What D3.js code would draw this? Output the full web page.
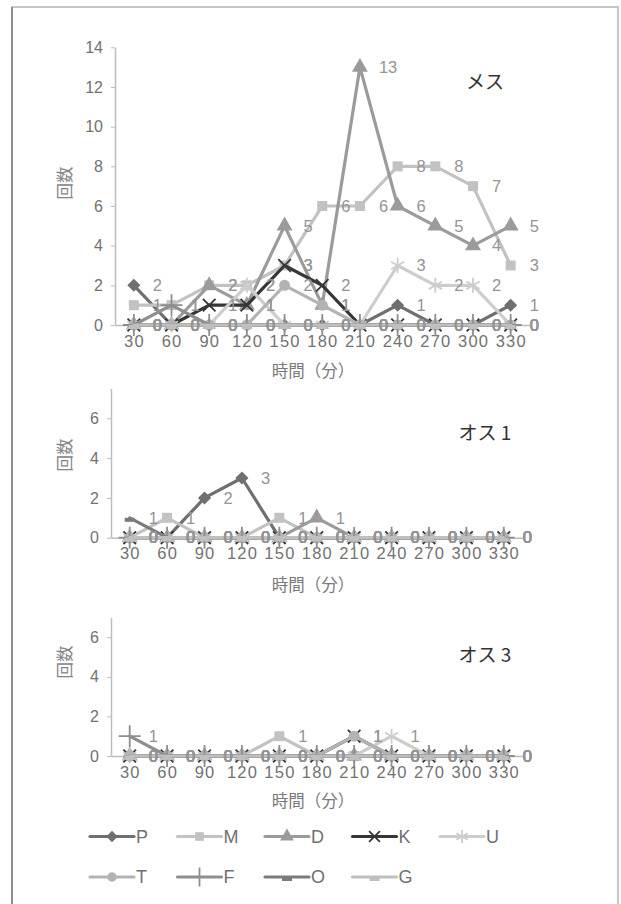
<!DOCTYPE html>
<html>
<head>
<meta charset="utf-8">
<script src="https://cdn.jsdelivr.net/npm/d3@7"></script>
<style>
  body { margin: 0; background: #fff; }
  text { font-family: "Liberation Sans", Arial, sans-serif; }
  .jp { font-family: "Noto Sans CJK JP", sans-serif; }
</style>
</head>
<body>
<script>
// x categories (minutes)
let times = ["30", "60", "90", "120", "150", "180", "210", "240", "270", "300", "330"]
let seriesNames = ["P", "M", "D", "K", "U", "T", "F", "O", "G"]

// one row per series, same order as seriesNames
let mesuValues = [
  [2, 0, 0, 0, 0, 0, 0, 1, 0, 0, 1],   // P
  [1, 1, 2, 2, 3, 6, 6, 8, 8, 7, 3],   // M
  [0, 0, 2, 1, 5, 1, 13, 6, 5, 4, 5],  // D
  [0, 0, 1, 1, 3, 2, 0, 0, 0, 0, 0],   // K
  [0, 0, 0, 2, 0, 0, 0, 3, 2, 2, 0],   // U
  [0, 0, 0, 0, 2, 1, 0, 0, 0, 0, 0],   // T
  [0, 1, 0, 0, 0, 0, 0, 0, 0, 0, 0],   // F
  [0, 0, 0, 0, 0, 0, 0, 0, 0, 0, 0],   // O
  [0, 0, 0, 0, 0, 0, 0, 0, 0, 0, 0]    // G
]
let osu1Values = [
  [0, 0, 2, 3, 0, 0, 0, 0, 0, 0, 0],
  [0, 1, 0, 0, 1, 0, 0, 0, 0, 0, 0],
  [0, 0, 0, 0, 0, 1, 0, 0, 0, 0, 0],
  [0, 0, 0, 0, 0, 0, 0, 0, 0, 0, 0],
  [0, 0, 0, 0, 0, 0, 0, 0, 0, 0, 0],
  [0, 0, 0, 0, 0, 0, 0, 0, 0, 0, 0],
  [0, 0, 0, 0, 0, 0, 0, 0, 0, 0, 0],
  [1, 0, 0, 0, 0, 0, 0, 0, 0, 0, 0],
  [0, 0, 0, 0, 0, 0, 0, 0, 0, 0, 0]
]
let osu3Values = [
  [0, 0, 0, 0, 0, 0, 0, 0, 0, 0, 0],
  [0, 0, 0, 0, 1, 0, 0, 0, 0, 0, 0],
  [0, 0, 0, 0, 0, 0, 0, 0, 0, 0, 0],
  [0, 0, 0, 0, 0, 0, 1, 0, 0, 0, 0],
  [0, 0, 0, 0, 0, 0, 0, 1, 0, 0, 0],
  [0, 0, 0, 0, 0, 0, 1, 0, 0, 0, 0],
  [1, 0, 0, 0, 0, 0, 0, 0, 0, 0, 0],
  [0, 0, 0, 0, 0, 0, 0, 0, 0, 0, 0],
  [0, 0, 0, 0, 0, 0, 0, 0, 0, 0, 0]
]

let colors = ["#6f6f6f", "#c2c2c2", "#9b9b9b", "#363636", "#cdcdcd", "#b3b3b3", "#8e8e8e", "#7b7b7b", "#bfbfbf"]
let markers = ["diamond", "square", "triangle", "times", "asterisk", "circle", "plus", "dash", "dash"]

let svg = d3.select("body")
            .append("svg")
            .attr("width", 621)
            .attr("height", 904)

// outer frame
svg.append("rect")
   .attr("x", 12).attr("y", 7)
   .attr("width", 606).attr("height", 905)
   .attr("fill", "none")
   .attr("stroke", "#b5b5b5")
   .attr("stroke-width", 1.5)
svg.append("line")
   .attr("x1", 12).attr("x2", 12).attr("y1", 7).attr("y2", 904)
   .attr("stroke", "#7a7a7a").attr("stroke-width", 1.5)

// k scales the marker (legend uses smaller ones)
function drawMarker(g, type, color, x, y, k = 1) {
  if (type == "diamond") {
    g.append("path").attr("d", d3.symbol().type(d3.symbolSquare).size(85 * k)())
     .attr("transform", `translate(${x},${y}) rotate(45)`).attr("fill", color)
  } else if (type == "square") {
    g.append("path").attr("d", d3.symbol().type(d3.symbolSquare).size(100 * k)())
     .attr("transform", `translate(${x},${y})`).attr("fill", color)
  } else if (type == "triangle") {
    g.append("path").attr("d", d3.symbol().type(d3.symbolTriangle).size(110 * k)())
     .attr("transform", `translate(${x},${y})`).attr("fill", color)
  } else if (type == "circle") {
    g.append("path").attr("d", d3.symbol().type(d3.symbolCircle).size(95 * k)())
     .attr("transform", `translate(${x},${y})`).attr("fill", color)
  } else if (type == "dash") {
    g.append("rect").attr("x", x - 5).attr("y", y).attr("width", 10).attr("height", 4)
     .attr("fill", color)
  } else {
    let t = type == "times" ? d3.symbolTimes : type == "asterisk" ? d3.symbolAsterisk : d3.symbolPlus
    g.append("path").attr("d", d3.symbol().type(t).size((type == "times" ? 105 : 160) * k)())
     .attr("transform", `translate(${x},${y})`)
     .attr("fill", "none").attr("stroke", color).attr("stroke-width", 1.8)
  }
}

// layout of the three panels
let panels = [
  { name: "メス", values: mesuValues, yMax: 14, ticks: [0, 2, 4, 6, 8, 10, 12, 14],
    top: 47.3, bottom: 325, left: 115, right: 529.5,
    nameY: 82, xTitleY: 371.5, yTitleY: 183 },
  { name: "オス 1", values: osu1Values, yMax: 7.5, ticks: [0, 2, 4, 6],
    top: 388.5, bottom: 537.7, left: 111, right: 522.5,
    nameY: 433, xTitleY: 585, yTitleY: 455 },
  { name: "オス 3", values: osu3Values, yMax: 7, ticks: [0, 2, 4, 6],
    top: 617.4, bottom: 756, left: 111, right: 522.5,
    nameY: 655, xTitleY: 801.5, yTitleY: 662 }
]

panels.forEach(p => {
  let x = d3.scaleBand().domain(times).range([p.left, p.right])
  let y = d3.scaleLinear().domain([0, p.yMax]).range([p.bottom, p.top])
  let cx = d => x(d) + x.bandwidth() / 2

  // y axis
  let yAxis = svg.append("g")
                 .attr("transform", `translate(${p.left},0)`)
                 .call(d3.axisLeft(y).tickValues(p.ticks).tickFormat(d3.format("d"))
                         .tickSize(4).tickPadding(8).tickSizeOuter(0))
  yAxis.select(".domain").attr("stroke", "#bdbdbd").attr("stroke-width", 1.5)
  yAxis.selectAll(".tick line").attr("stroke", "#bdbdbd")
  yAxis.selectAll("text").attr("font-size", 16).attr("fill", "#727272")
       .style("font-family", "Liberation Sans, Arial, sans-serif")

  // x axis
  let xAxis = svg.append("g")
                 .attr("transform", `translate(0,${p.bottom})`)
                 .call(d3.axisBottom(x).tickSize(0).tickPadding(10))
  xAxis.select(".domain").attr("stroke", "#bdbdbd").attr("stroke-width", 1.5)
  xAxis.selectAll("text").attr("font-size", 16.5).attr("fill", "#727272")
       .attr("letter-spacing", 1.2).attr("dx", 0.6)
       .style("font-family", "Liberation Sans, Arial, sans-serif")

  // axis titles
  svg.append("text").attr("class", "jp")
     .attr("x", 313).attr("y", p.xTitleY).attr("dy", "0.35em")
     .attr("text-anchor", "middle").attr("font-size", 16.5).attr("fill", "#7a7a7a")
     .text("時間（分）")
  svg.append("text").attr("class", "jp")
     .attr("transform", `translate(65,${p.yTitleY}) rotate(-90)`)
     .attr("dy", "0.35em").attr("text-anchor", "middle")
     .attr("font-size", 16.5).attr("fill", "#858585")
     .text("回数")

  // panel name
  svg.append("text").attr("class", "jp")
     .attr("x", 485).attr("y", p.nameY).attr("dy", "0.35em")
     .attr("text-anchor", "middle").attr("font-size", 19).attr("fill", "#333")
     .text(p.name)

  // series lines and markers
  let line = d3.line().x((d, i) => cx(times[i])).y(d => y(d))
  p.values.forEach((vals, s) => {
    let g = svg.append("g")
    g.append("path")
     .attr("d", line(vals))
     .attr("fill", "none")
     .attr("stroke", colors[s])
     .attr("stroke-width", 3.2)
     .attr("stroke-linejoin", "round")
     .attr("stroke-linecap", "round")
    vals.forEach((v, i) => drawMarker(g, markers[s], colors[s], cx(times[i]), y(v)))
  })

  // data labels to the right of every point
  p.values.forEach(vals => {
    vals.forEach((v, i) => {
      svg.append("text")
         .attr("x", cx(times[i]) + 19)
         .attr("y", y(v))
         .attr("dy", "0.35em")
         .attr("font-size", 16.5)
         .attr("fill", "#949494")
         .text(v)
    })
  })
})

// legend
seriesNames.forEach((name, i) => {
  let col = i % 5
  let row = Math.floor(i / 5)
  let lx = 90 + col * 87.5
  let ly = row == 0 ? 836.5 : 877
  let g = svg.append("g")
  g.append("line")
   .attr("x1", lx).attr("x2", lx + 44)
   .attr("y1", ly).attr("y2", ly)
   .attr("stroke", colors[i]).attr("stroke-width", 3.2).attr("stroke-linecap", "round")
  drawMarker(g, markers[i], colors[i], lx + 22, ly, 0.75)
  g.append("text")
   .attr("x", lx + 46).attr("y", ly).attr("dy", "0.36em")
   .attr("font-size", 18).attr("fill", "#707070")
   .text(name)
})
</script>
</body>
</html>
